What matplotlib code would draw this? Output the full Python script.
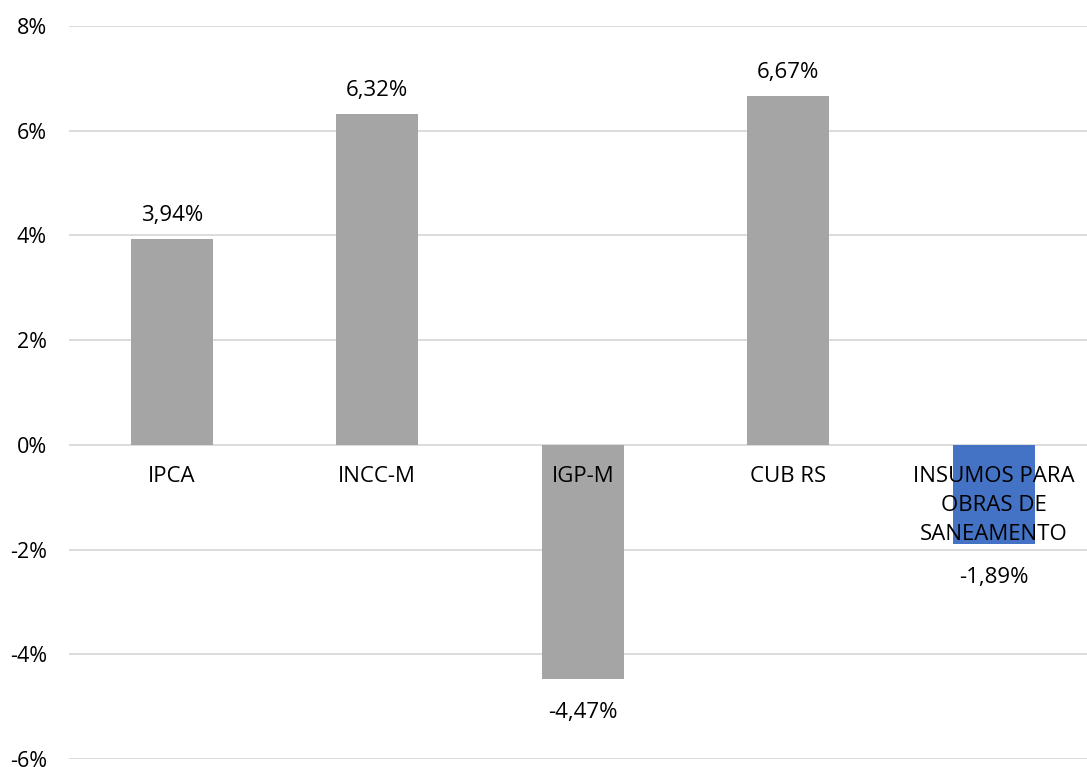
import matplotlib.pyplot as plt
from matplotlib.ticker import FuncFormatter

# valores
categorias = ["IPCA", "INCC-M", "IGP-M", "CUB RS", "INSUMOS PARA\nOBRAS DE\nSANEAMENTO"]
valores = [3.94, 6.32, -4.47, 6.67, -1.89]
cores = ["#A5A5A5", "#A5A5A5", "#A5A5A5", "#A5A5A5", "#4472C4"]
yticks = [-6, -4, -2, 0, 2, 4, 6, 8]

plt.rcParams['font.family'] = ['Open Sans', 'DejaVu Sans']

fig = plt.figure(figsize=(10.87, 7.67), dpi=100)
W, H = 1087, 767
ax = fig.add_axes([69 / W, 1 - 759 / H, 1027.5 / W, (759 - 26) / H])

x = list(range(len(categorias)))
ax.bar(x, valores, width=0.4, color=cores, zorder=2)

ax.set_xlim(-0.5, len(categorias) - 0.5)
ax.set_ylim(-6, 8)
ax.set_yticks(yticks)
ax.yaxis.set_major_formatter(FuncFormatter(lambda v, p: f"{v:.0f}%"))
ax.grid(axis='y', color='#D9D9D9', linewidth=1.3, zorder=0)
ax.set_xticks([])
for s in ax.spines.values():
    s.set_visible(False)
ax.tick_params(axis='y', length=0, pad=16, labelsize=15.5, labelcolor='#000000')

for i, (c, v) in enumerate(zip(categorias, valores)):
    # rotulo da categoria logo abaixo do zero
    ax.annotate(c, (i, 0), xytext=(0, -15), textcoords='offset points',
                ha='center', va='top', fontsize=16, linespacing=1.5, zorder=5)
    txt = f"{v:.2f}%".replace('.', ',')
    if v >= 0:
        ax.annotate(txt, (i, v), xytext=(0, 9), textcoords='offset points',
                    ha='center', va='bottom', fontsize=16)
    else:
        ax.annotate(txt, (i, v), xytext=(0, -16.5), textcoords='offset points',
                    ha='center', va='top', fontsize=16)

fig.savefig("out.png", dpi=100)
